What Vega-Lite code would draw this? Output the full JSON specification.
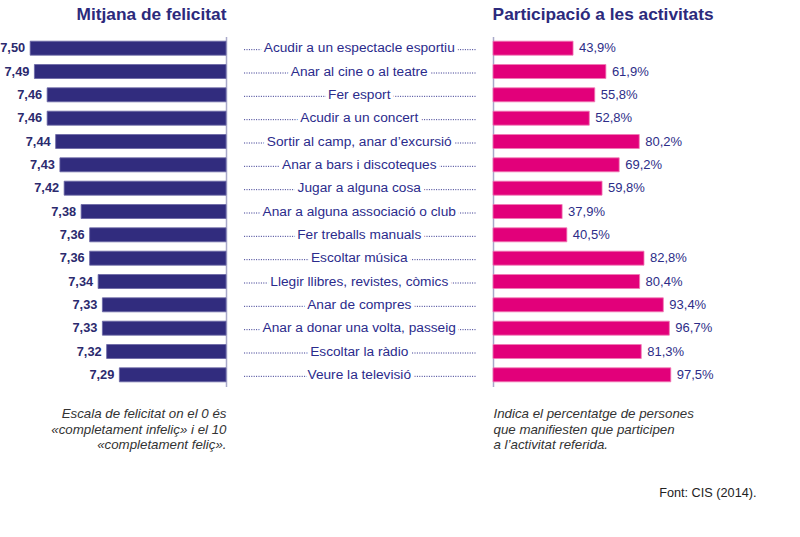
{
  "$schema": "https://vega.github.io/schema/vega-lite/v6.json",
  "background": "white",
  "padding": {"left": 0, "top": 5.5, "right": 0, "bottom": 0},
  "bounds": "flush",
  "spacing": 17,
  "config": {
    "view": {"stroke": null},
    "font": "Liberation Sans",
    "locale": {
      "number": {"decimal": ",", "thousands": ".", "grouping": [3], "currency": ["", " €"]}
    },
    "title": {"color": "#2c2a7c", "fontSize": 17.3, "fontWeight": "bold", "baseline": "alphabetic", "offset": 13}
  },
  "title": {
    "text": "Font: CIS (2014).",
    "orient": "bottom",
    "anchor": "end",
    "frame": "bounds",
    "fontSize": 12.7,
    "fontWeight": "normal",
    "color": "#222222",
    "offset": 36
  },
  "datasets": {
    "activitats": [
      {"activitat": "Acudir a un espectacle esportiu", "felicitat": 7.50, "participacio": 0.439},
      {"activitat": "Anar al cine o al teatre", "felicitat": 7.49, "participacio": 0.619},
      {"activitat": "Fer esport", "felicitat": 7.46, "participacio": 0.558},
      {"activitat": "Acudir a un concert", "felicitat": 7.46, "participacio": 0.528},
      {"activitat": "Sortir al camp, anar d’excursió", "felicitat": 7.44, "participacio": 0.802},
      {"activitat": "Anar a bars i discoteques", "felicitat": 7.43, "participacio": 0.692},
      {"activitat": "Jugar a alguna cosa", "felicitat": 7.42, "participacio": 0.598},
      {"activitat": "Anar a alguna associació o club", "felicitat": 7.38, "participacio": 0.379},
      {"activitat": "Fer treballs manuals", "felicitat": 7.36, "participacio": 0.405},
      {"activitat": "Escoltar música", "felicitat": 7.36, "participacio": 0.828},
      {"activitat": "Llegir llibres, revistes, còmics", "felicitat": 7.34, "participacio": 0.804},
      {"activitat": "Anar de compres", "felicitat": 7.33, "participacio": 0.934},
      {"activitat": "Anar a donar una volta, passeig", "felicitat": 7.33, "participacio": 0.967},
      {"activitat": "Escoltar la ràdio", "felicitat": 7.32, "participacio": 0.813},
      {"activitat": "Veure la televisió", "felicitat": 7.29, "participacio": 0.975}
    ]
  },
  "hconcat": [
    {
      "width": 226,
      "height": 350,
      "title": {"text": "Mitjana de felicitat", "anchor": "end"},
      "data": {"name": "activitats"},
      "encoding": {
        "y": {
          "field": "activitat",
          "type": "nominal",
          "sort": null,
          "scale": {"paddingInner": 0.4, "paddingOuter": 0.2},
          "axis": {"orient": "right", "labels": false, "ticks": false, "title": null, "domainColor": "#a9a9c9", "domainWidth": 1.5}
        },
        "x": {
          "field": "felicitat",
          "type": "quantitative",
          "scale": {"domain": [7.039, 7.571], "reverse": true, "zero": false},
          "axis": {
            "labels": false,
            "ticks": false,
            "domain": false,
            "grid": false,
            "title": ["Escala de felicitat on el 0 és", "«completament infeliç» i el 10", "«completament feliç»."],
            "titleAnchor": "start",
            "titleAlign": "right",
            "titleBaseline": "alphabetic",
            "titlePadding": 31,
            "titleFontSize": 13.3,
            "titleFontStyle": "italic",
            "titleFontWeight": "normal",
            "titleColor": "#333333",
            "titleLineHeight": 15.5
          }
        }
      },
      "layer": [
        {
          "mark": {"type": "bar", "color": "#312c7e", "stroke": "#6b67a6", "strokeWidth": 0.8},
          "encoding": {"x2": {"datum": 7.039}}
        },
        {
          "mark": {"type": "text", "align": "right", "baseline": "middle", "dx": -5, "fontSize": 12.8, "fontWeight": "bold", "color": "#2b2a6e"},
          "encoding": {"text": {"field": "felicitat", "type": "quantitative", "format": ".2f"}}
        }
      ]
    },
    {
      "width": 232.5,
      "height": 350,
      "data": {"name": "activitats"},
      "encoding": {
        "y": {
          "field": "activitat",
          "type": "nominal",
          "sort": null,
          "scale": {"paddingInner": 0.4, "paddingOuter": 0.2},
          "axis": null
        }
      },
      "layer": [
        {
          "mark": {"type": "rule", "color": "#2d2d8a", "strokeWidth": 1, "strokeDash": [1, 1.4], "yOffset": 1.5},
          "encoding": {}
        },
        {
          "mark": {"type": "text", "baseline": "middle", "fontSize": 13.7, "fill": "white", "stroke": "white", "strokeWidth": 7, "strokeJoin": "round"},
          "encoding": {"text": {"field": "activitat"}}
        },
        {
          "mark": {"type": "text", "baseline": "middle", "fontSize": 13.7, "color": "#2b2b8c"},
          "encoding": {"text": {"field": "activitat"}}
        }
      ]
    },
    {
      "width": 263.5,
      "height": 350,
      "title": {"text": "Participació a les activitats", "anchor": "start"},
      "data": {"name": "activitats"},
      "encoding": {
        "y": {
          "field": "activitat",
          "type": "nominal",
          "sort": null,
          "scale": {"paddingInner": 0.4, "paddingOuter": 0.2},
          "axis": {"orient": "left", "labels": false, "ticks": false, "title": null, "domainColor": "#a9a9c9", "domainWidth": 1.5}
        },
        "x": {
          "field": "participacio",
          "type": "quantitative",
          "scale": {"domain": [0, 1.445]},
          "axis": {
            "labels": false,
            "ticks": false,
            "domain": false,
            "grid": false,
            "title": ["Indica el percentatge de persones", "que manifiesten que participen", "a l’activitat referida."],
            "titleAnchor": "start",
            "titleAlign": "left",
            "titleBaseline": "alphabetic",
            "titlePadding": 31,
            "titleFontSize": 13.3,
            "titleFontStyle": "italic",
            "titleFontWeight": "normal",
            "titleColor": "#333333",
            "titleLineHeight": 15.5
          }
        }
      },
      "layer": [
        {
          "mark": {"type": "bar", "color": "#e2007a", "stroke": "#f07ab5", "strokeWidth": 0.8}
        },
        {
          "mark": {"type": "text", "align": "left", "baseline": "middle", "dx": 6, "fontSize": 13, "color": "#2d2d88"},
          "encoding": {"text": {"field": "participacio", "type": "quantitative", "format": ".1%"}}
        }
      ]
    }
  ]
}
